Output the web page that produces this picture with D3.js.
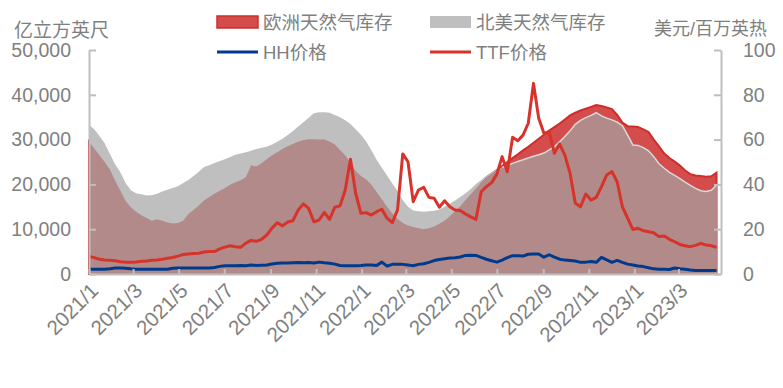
<!DOCTYPE html>
<html>
<head>
<meta charset="utf-8">
<script src="https://cdn.jsdelivr.net/npm/d3@7"></script>
<style>
    body { margin: 0; background: #fff; }
    .chart text { font-family: "Liberation Sans", Arial, "Noto Sans CJK SC", sans-serif; fill: #7f7f7f; }
    .axis path, .axis line { stroke: #bfbfbf; stroke-width: 2; }
</style>
</head>
<body>
<div class="chart"></div>
<script>

// weekly series, first week 2021/1/1
var firstWeek = "2021-01-01";

// 北美天然气库存 (亿立方英尺)
var naStorage = [
    33300, 32300, 30800, 29200, 26800, 24500, 22700, 20300, 18700, 18000,
    17800, 17500, 17600, 17900, 18400, 18800, 19200, 19600, 20300, 21000,
    21900, 22800, 23900, 24300, 24800, 25200, 25600, 26100, 26600, 26900,
    27200, 27500, 27900, 28200, 28400, 28900, 29500, 30200, 31000, 31900,
    32900, 33900, 34900, 35900, 36100, 36100, 36000, 35500, 35000, 34300,
    33500, 32300, 31100, 29600, 27600, 25500, 23700, 22000, 20200, 18500,
    16500, 15000, 14200, 14000, 13900, 14000, 14100, 14400, 15000, 15700,
    16400, 17200, 18000, 19000, 20100, 21000, 21900, 22700, 23300, 23800,
    24200, 24700, 25100, 25500, 25900, 26300, 26600, 27000, 27700, 28400,
    29500, 30700, 32000, 33400, 34300, 34900, 35400, 36000, 35300, 34800,
    34400, 33900, 33100, 31000, 28800, 28700, 28200, 27500, 26200, 24600,
    23600, 22700, 22000, 21300, 20500, 19800, 19100, 18600, 18400, 18700, 19800
];

// 欧洲天然气库存 (亿立方英尺)
var euStorage = [
    29500, 28000, 26500, 25000, 23300, 20800, 18600, 16300, 14900, 13900,
    13100, 12500, 11900, 12200, 11900, 11500, 11300, 11400, 11900, 13400,
    14300, 15300, 16400, 17200, 17900, 18600, 19200, 19900, 20500, 20900,
    21600, 24300, 24000, 24700, 25600, 26500, 27200, 27900, 28500, 29000,
    29500, 29900, 30100, 30100, 30000, 30000, 29600, 28900, 27700, 26500,
    24800, 23000, 21900, 21100, 19900, 18300, 16700, 15000, 13500, 12300,
    11400, 10800, 10500, 10200, 10000, 10200, 10600, 11200, 11900, 12900,
    14000, 15100, 16500, 17800, 19100, 20500, 21600, 22400, 23200, 24100,
    25000, 25900, 26700, 27600, 28400, 29300, 30200, 31100, 32000, 32800,
    33600, 34500, 35400, 36000, 36500, 36900, 37300, 37700, 37500, 37200,
    36800, 35500, 33800, 33000, 32900, 32800, 32300, 31700, 30000, 28500,
    26900, 25900, 25100, 24200, 23100, 22300, 22000, 21900, 21700, 21800, 22600
];

// TTF价格 (美元/百万英热)
var ttfPrice = [
    7.8, 7.3, 6.6, 6.3, 6.1, 5.9, 5.5, 5.3, 5.2, 5.4,
    5.7, 5.8, 6.1, 6.3, 6.6, 7.0, 7.4, 8.0, 8.7, 8.9,
    9.1, 9.3, 9.8, 10.0, 10.0, 11.2, 12.0, 12.6, 12.2, 11.9,
    13.8, 15.0, 14.6, 15.5, 17.4, 20.5, 22.9, 21.5, 23.2, 23.8,
    28.5, 31.3, 29.3, 23.3, 24.1, 27.5, 24.4, 29.8, 30.4, 37.5,
    51.2, 36.0, 27.1, 27.4, 26.3, 27.8, 28.9, 24.9, 22.9, 28.6,
    53.6, 50.1, 32.3, 37.5, 38.7, 34.2, 33.8, 29.8, 32.7, 30.0,
    28.6, 28.3, 26.8, 25.5, 24.4, 36.7, 39.0, 40.8, 44.6, 52.4,
    45.7, 61.0, 59.5, 62.0, 67.3, 85.1, 69.5, 62.8, 63.5, 53.9,
    58.0, 53.1, 44.9, 31.6, 30.0, 35.7, 33.0, 34.2, 39.0, 44.2,
    45.7, 41.2, 30.0, 24.9, 19.9, 20.4, 19.3, 18.9, 18.4, 16.7,
    17.0, 15.5, 14.4, 13.2, 12.6, 12.2, 12.8, 13.7, 12.9, 12.6, 11.9
];

// HH价格 (美元/百万英热)
var hhPrice = [
    2.1, 2.1, 2.1, 2.1, 2.3, 2.7, 2.7, 2.6, 2.3, 2.1,
    2.1, 2.1, 2.1, 2.1, 2.1, 2.1, 2.6, 2.7, 2.7, 2.7,
    2.7, 2.7, 2.7, 2.7, 2.9, 3.4, 3.7, 3.7, 3.7, 3.8,
    3.7, 4.0, 3.8, 3.9, 4.0, 4.5, 4.8, 4.9, 4.9, 5.0,
    5.1, 5.0, 5.1, 4.9, 5.3, 5.0, 4.8, 4.4, 3.8, 3.7,
    3.7, 3.7, 3.8, 4.0, 4.0, 3.8, 5.3, 3.5, 4.3, 4.4,
    4.3, 4.0, 3.7, 4.3, 4.6, 5.2, 6.0, 6.5, 6.8, 7.1,
    7.3, 7.6, 8.3, 8.4, 8.3, 7.4, 6.6, 5.9, 5.3, 6.2,
    7.3, 8.2, 8.1, 8.0, 8.8, 8.9, 8.9, 7.5, 8.6, 7.5,
    6.6, 6.2, 6.0, 5.8, 5.2, 5.3, 5.6, 5.2, 7.4, 6.3,
    5.2, 6.1, 5.2, 4.4, 4.0, 3.6, 3.3, 2.8, 2.3, 2.1,
    2.1, 2.0, 2.7, 2.3, 2.1, 1.8, 1.6, 1.6, 1.6, 1.6, 1.6
];

// x axis labels (every 2 months)
var monthTicks = ["2021/1", "2021/3", "2021/5", "2021/7", "2021/9", "2021/11",
    "2022/1", "2022/3", "2022/5", "2022/7", "2022/9", "2022/11", "2023/1", "2023/3"];

var storageTicks = [0, 10000, 20000, 30000, 40000, 50000];
var priceTicks = [0, 20, 40, 60, 80, 100];

var colors = {
    na: "#bfbfbf",
    eu: "#d44c4c",
    euEdge: "#cc2f2a",
    both: "#b18a89",
    ttf: "#d7332a",
    hh: "#003a8c"
};


/*
 * StorageChart - storage areas (left axis) + price lines (right axis)
 */

StorageChart = function(_parentElement){
    this.parentElement = _parentElement;
    this.initVis();
}

StorageChart.prototype.initVis = function(){
    var vis = this;

    vis.margin = { top: 50, right: 62, bottom: 114, left: 89 };
    vis.width = 783 - vis.margin.left - vis.margin.right;
    vis.height = 388 - vis.margin.top - vis.margin.bottom;

    vis.svg = d3.select("." + vis.parentElement).append("svg")
        .attr("width", 783)
        .attr("height", 388);

    vis.g = vis.svg.append("g")
        .attr("transform", "translate(" + vis.margin.left + "," + vis.margin.top + ")");

    var parse = d3.timeParse("%Y/%m");
    vis.tickDates = monthTicks.map(function(d) { return parse(d); });

    // plot ends a few days after the last week
    vis.x = d3.scaleTime()
        .domain([new Date(2021, 0, 1), new Date(2023, 3, 27)])
        .range([0, vis.width]);

    vis.yLeft = d3.scaleLinear().domain([0, 50000]).range([vis.height, 0]);
    vis.yRight = d3.scaleLinear().domain([0, 100]).range([vis.height, 0]);

    vis.wrangleData();
}

StorageChart.prototype.wrangleData = function(){
    var vis = this;

    var start = d3.timeParse("%Y-%m-%d")(firstWeek);
    vis.displayData = naStorage.map(function(d, i) {
        return {
            date: d3.timeDay.offset(start, i * 7),
            na: d,
            eu: euStorage[i],
            ttf: ttfPrice[i],
            hh: hhPrice[i]
        };
    });

    vis.updateVis();
}

StorageChart.prototype.updateVis = function(){
    var vis = this;
    var data = vis.displayData;

    function areaOf(key) {
        return d3.area()
            .x(function(d) { return vis.x(d.date); })
            .y0(vis.height)
            .y1(function(d) { return vis.yLeft(key(d)); });
    }

    // European storage first, North America on top, then the overlap
    vis.g.append("path")
        .datum(data)
        .attr("d", areaOf(function(d) { return d.eu; }))
        .attr("fill", colors.eu)
        .attr("stroke", colors.euEdge)
        .attr("stroke-width", 2);

    vis.g.append("path")
        .datum(data)
        .attr("d", areaOf(function(d) { return d.na; }))
        .attr("fill", colors.na);

    vis.g.append("path")
        .datum(data)
        .attr("d", areaOf(function(d) { return Math.min(d.na, d.eu); }))
        .attr("fill", colors.both);

    // light edge of the North America area, only visible inside the red
    vis.g.append("path")
        .datum(data)
        .attr("d", d3.line()
            .defined(function(d) { return d.na <= d.eu; })
            .x(function(d) { return vis.x(d.date); })
            .y(function(d) { return vis.yLeft(d.na); }))
        .attr("fill", "none")
        .attr("stroke", "#d9d9d9")
        .attr("stroke-width", 1.5);

    // price lines
    var priceLine = function(key) {
        return d3.line()
            .x(function(d) { return vis.x(d.date); })
            .y(function(d) { return vis.yRight(d[key]); });
    };

    ["hh", "ttf"].forEach(function(key) {
        vis.g.append("path")
            .datum(data)
            .attr("d", priceLine(key))
            .attr("fill", "none")
            .attr("stroke", colors[key])
            .attr("stroke-width", 3)
            .attr("stroke-linejoin", "round");
    });

    // axes
    vis.yAxisLeft = d3.axisLeft(vis.yLeft)
        .tickValues(storageTicks)
        .tickFormat(d3.format(","))
        .tickSizeInner(-7)
        .tickSizeOuter(0)
        .tickPadding(18);

    vis.yAxisRight = d3.axisRight(vis.yRight)
        .tickValues(priceTicks)
        .tickSizeInner(-7)
        .tickSizeOuter(0)
        .tickPadding(22);

    vis.xAxis = d3.axisBottom(vis.x)
        .tickValues(vis.tickDates)
        .tickFormat(function(d, i) { return monthTicks[i]; })
        .tickSizeInner(-5)
        .tickSizeOuter(0)
        .tickPadding(0);

    vis.g.append("g")
        .attr("class", "y-axis axis")
        .call(vis.yAxisLeft);

    vis.g.append("g")
        .attr("class", "y-axis axis")
        .attr("transform", "translate(" + vis.width + ",0)")
        .call(vis.yAxisRight);

    vis.g.append("g")
        .attr("class", "x-axis axis")
        .attr("transform", "translate(0," + vis.height + ")")
        .call(vis.xAxis);

    vis.g.selectAll(".y-axis text")
        .style("font-size", "19.5px");

    vis.g.selectAll(".x-axis text")
        .style("font-size", "20.5px")
        .attr("text-anchor", "end")
        .attr("dy", 0)
        .attr("y", 0)
        .attr("transform", "translate(10,18) rotate(-45)");

    vis.g.selectAll(".axis .domain").attr("stroke", "#bfbfbf");

    // axis titles
    vis.svg.append("text")
        .attr("x", 14).attr("y", 37)
        .style("font-size", "19px")
        .text("亿立方英尺");

    vis.svg.append("text")
        .attr("x", 767).attr("y", 35)
        .attr("text-anchor", "end")
        .style("font-size", "18px")
        .text("美元/百万英热");

    // legend
    var legend = [
        { label: "欧洲天然气库存", type: "rect", fill: colors.eu, edge: colors.euEdge, x: 217, y: 22 },
        { label: "北美天然气库存", type: "rect", fill: colors.na, edge: "none", x: 430, y: 22 },
        { label: "HH价格", type: "line", fill: colors.hh, x: 217, y: 52 },
        { label: "TTF价格", type: "line", fill: colors.ttf, x: 430, y: 52 }
    ];

    var item = vis.svg.selectAll(".legend")
        .data(legend)
        .enter()
        .append("g")
        .attr("class", "legend")
        .attr("transform", function(d) { return "translate(" + d.x + "," + d.y + ")"; });

    item.filter(function(d) { return d.type == "rect"; })
        .append("rect")
        .attr("x", 0).attr("y", -6)
        .attr("width", 41).attr("height", 12)
        .attr("fill", function(d) { return d.fill; })
        .attr("stroke", function(d) { return d.edge; })
        .attr("stroke-width", 1.5);

    item.filter(function(d) { return d.type == "line"; })
        .append("line")
        .attr("x1", 0).attr("x2", 41)
        .attr("stroke", function(d) { return d.fill; })
        .attr("stroke-width", 3);

    item.append("text")
        .attr("x", 46)
        .attr("dy", "0.36em")
        .style("font-size", "18.5px")
        .text(function(d) { return d.label; });
}

var chart = new StorageChart("chart");

</script>
</body>
</html>
